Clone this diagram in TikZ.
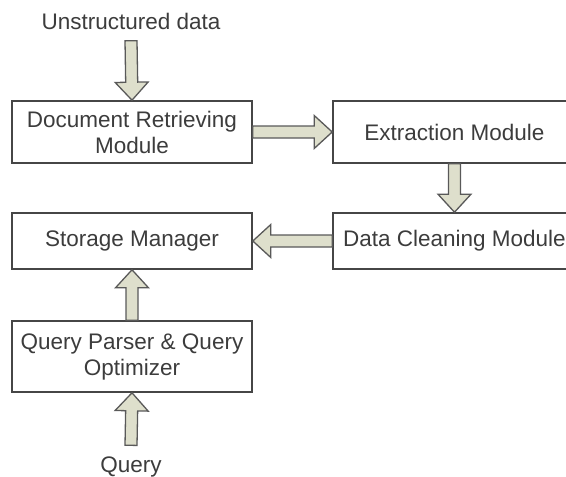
\documentclass[tikz,border=0pt]{standalone}
\usepackage{fontspec}
\setmainfont{Liberation Sans}
\usetikzlibrary{calc}

\definecolor{arrfill}{RGB}{222,223,204}
\definecolor{boxline}{RGB}{70,70,70}
\definecolor{txt}{RGB}{60,60,60}

% hollow block arrow from #1 to #2
\newcommand\fatarrow[2]{%
\coordinate (hb) at ($(#2)!18pt!(#1)$);
\draw[fatarr] ($(#1)!6pt!90:(#2)$) -- ($(hb)!6pt!90:(#2)$) -- ($(hb)!16.5pt!90:(#2)$) -- (#2)
  -- ($(hb)!16.5pt!-90:(#2)$) -- ($(hb)!6pt!-90:(#2)$) -- ($(#1)!6pt!-90:(#2)$) -- cycle;}

\begin{document}
\begin{tikzpicture}[x=1pt,y=-1pt,
  box/.style={draw=boxline,line width=1.6pt,align=center,text=txt,minimum width=240pt},
  lbl/.style={text=txt,outer sep=4pt},
  fatarr/.style={draw=black!65,fill=arrfill,line width=1.3pt,line join=miter}]
\clip (0,0) rectangle (566,477);
\fontsize{22.5}{26}\selectfont

\node[lbl] (udata) at (131,21) {Unstructured data};
\node[box,minimum height=62pt] (drm) at (132,132) {Document Retrieving\\Module};
\node[box,minimum height=62pt,minimum width=243pt] (ext) at (454.5,132) {Extraction Module};
\node[box,minimum height=56pt,minimum width=243pt] (dc) at (454.5,241) {Data Cleaning Module};
\node[box,minimum height=56pt] (sm) at (132,241) {Storage Manager};
\node[box,minimum height=71pt] (qp) at (132,356.5) {Query Parser \& Query\\Optimizer};
\node[lbl] (query) at (131,467) {Query};

\fatarrow{udata.south}{drm.north}
\fatarrow{drm.east}{ext.west}
\fatarrow{ext.south}{dc.north}
\fatarrow{dc.west}{sm.east}
\fatarrow{qp.north}{sm.south}
\fatarrow{query.north}{qp.south}

\end{tikzpicture}
\end{document}
